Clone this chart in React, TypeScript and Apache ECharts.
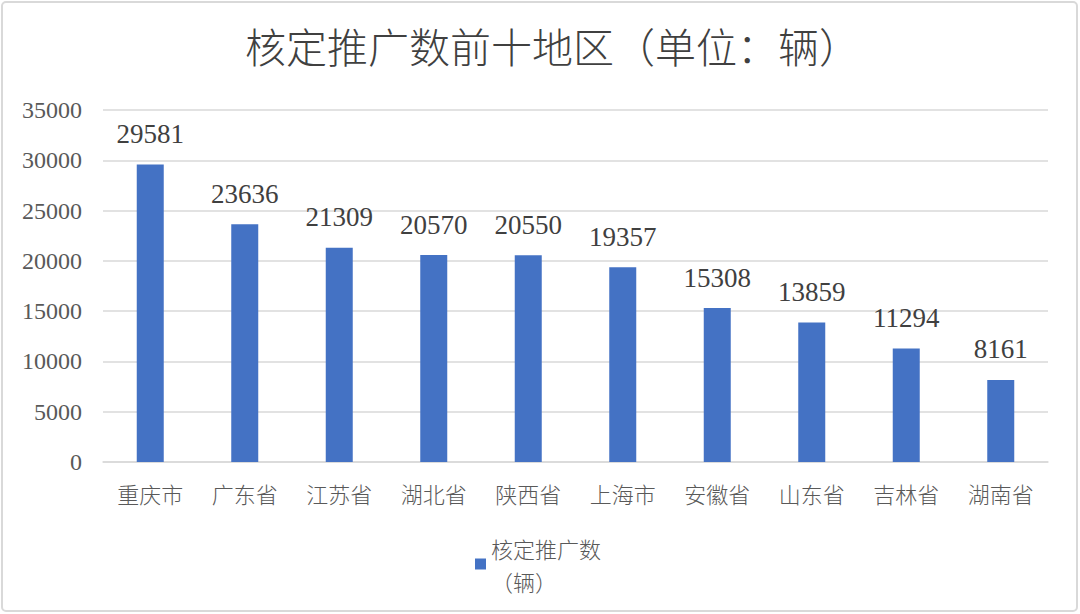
import React, { useEffect, useRef } from "react";
import * as echarts from "echarts";

const categories = ["重庆市", "广东省", "江苏省", "湖北省", "陕西省", "上海市", "安徽省", "山东省", "吉林省", "湖南省"];
const values = [29581, 23636, 21309, 20570, 20550, 19357, 15308, 13859, 11294, 8161];
const seriesName = "核定推广数\n（辆）";
const titleText = "核定推广数前十地区（单位：辆）";

export default function App() {
  const ref = useRef<HTMLDivElement>(null);
  useEffect(() => {
    const chart = echarts.init(ref.current!, null, { renderer: "svg" });
    chart.setOption({
      animation: false,
      backgroundColor: "#ffffff",
      title: {
        text: titleText,
        left: 240,
        top: 19,
        textStyle: {
          fontFamily: "Noto Sans CJK SC",
          fontWeight: 300,
          fontSize: 41,
          color: "#404040",
        },
      },
      graphic: [
        {
          type: "rect",
          shape: { x: 2, y: 2, width: 1075, height: 609, r: 4 },
          style: { fill: "none", stroke: "#d9d9d9", lineWidth: 2 },
          silent: true,
        },
      ],
      grid: { left: 103, right: 32, top: 110, bottom: 152 },
      legend: {
        bottom: 12,
        left: 470,
        itemWidth: 11,
        itemHeight: 11,
        icon: "rect",
        textStyle: {
          fontFamily: "Noto Sans CJK SC",
          fontWeight: 300,
          fontSize: 22,
          color: "#595959",
          lineHeight: 33,
        },
      },
      xAxis: {
        type: "category",
        data: categories,
        axisLine: { lineStyle: { color: "#d9d9d9", width: 1.5 } },
        axisTick: { show: false },
        axisLabel: {
          fontFamily: "Noto Sans CJK SC",
          fontWeight: 300,
          fontSize: 22,
          color: "#595959",
          margin: 20,
        },
      },
      yAxis: {
        type: "value",
        min: 0,
        max: 35000,
        interval: 5000,
        axisLine: { show: false },
        axisTick: { show: false },
        splitLine: { lineStyle: { color: "#d9d9d9", width: 1.5 } },
        axisLabel: {
          fontFamily: "Liberation Serif",
          fontSize: 24,
          color: "#595959",
          margin: 21,
          formatter: (v: number) => String(v),
        },
      },
      series: [
        {
          name: seriesName,
          type: "bar",
          data: values,
          barWidth: 27,
          itemStyle: { color: "#4472C4" },
          label: {
            show: true,
            position: "top",
            distance: 17,
            fontFamily: "Liberation Serif",
            fontSize: 27,
            color: "#404040",
          },
        },
      ],
    });
    return () => chart.dispose();
  }, []);
  return (
    <div
      ref={ref}
      style={{ position: "fixed", left: 0, top: 0, width: 1080, height: 614 }}
    />
  );
}
